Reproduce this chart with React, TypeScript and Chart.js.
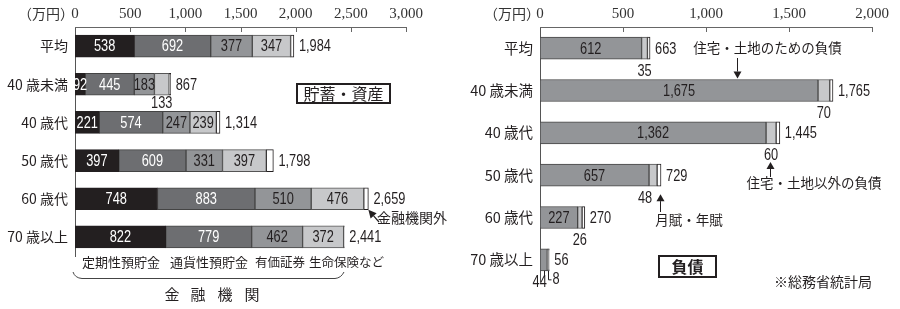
import React, { useEffect, useRef } from "react";
import { Chart, registerables } from "chart.js";
Chart.register(...registerables);

// ---------- data ----------
const categories = ["平均", "40 歳未満", "40 歳代", "50 歳代", "60 歳代", "70 歳以上"];

// 貯蓄・資産 (万円)
const timeDeposits = [538, 92, 221, 397, 748, 822];
const demandDeposits = [692, 445, 574, 609, 883, 779];
const securities = [377, 183, 247, 331, 510, 462];
const lifeInsurance = [347, 133, 239, 397, 476, 372];
const nonFinancial = [30, 14, 33, 64, 42, 6];
const savingsTotals = [1984, 867, 1314, 1798, 2659, 2441];
const savingsTicks = [0, 500, 1000, 1500, 2000, 2500, 3000];
const savingsSeriesNames = ["定期性預貯金", "通貨性預貯金", "有価証券", "生命保険など", "金融機関外"];

// 負債 (万円)
const housingDebt = [612, 1675, 1362, 657, 227, 44];
const otherDebt = [35, 70, 60, 48, 26, 8];
const installmentDebt = [16, 20, 23, 24, 17, 4];
const debtTotals = [663, 1765, 1445, 729, 270, 56];
const debtTicks = [0, 500, 1000, 1500, 2000];
const debtSeriesNames = ["住宅・土地のための負債", "住宅・土地以外の負債", "月賦・年賦"];

// ---------- styles ----------
const JP = "'Noto Sans CJK JP', 'Noto Sans', sans-serif";
const NUM = "'Liberation Sans', Arimo, sans-serif";
const NARROW = 0.8;
const SERIF = "'Liberation Serif', 'DejaVu Serif', serif";
const INK = "#231f20";
const fmt = (v: number) => v.toLocaleString("en-US");

function numWidth(ctx: CanvasRenderingContext2D, txt: string) {
  return ctx.measureText(txt).width * NARROW;
}

// condensed number text (horizontal compression)
function numText(ctx: CanvasRenderingContext2D, txt: string, x: number, y: number, align: "left" | "center" | "right") {
  ctx.save();
  ctx.translate(x, y);
  ctx.scale(NARROW, 1);
  ctx.textAlign = align;
  ctx.textBaseline = "middle";
  ctx.fillText(txt, 0, 0);
  ctx.restore();
}

function arrow(ctx: CanvasRenderingContext2D, x1: number, y1: number, x2: number, y2: number, head = 7, half = 4) {
  const ang = Math.atan2(y2 - y1, x2 - x1);
  const bx = x2 - head * Math.cos(ang);
  const by = y2 - head * Math.sin(ang);
  ctx.beginPath();
  ctx.moveTo(x1, y1);
  ctx.lineTo(bx, by);
  ctx.stroke();
  ctx.beginPath();
  ctx.moveTo(x2, y2);
  ctx.lineTo(bx + half * Math.sin(ang), by - half * Math.cos(ang));
  ctx.lineTo(bx - half * Math.sin(ang), by + half * Math.cos(ang));
  ctx.closePath();
  ctx.fill();
}

function drawTopAxis(chart: any, ticks: number[], unitDx: number) {
  const { ctx, chartArea: a } = chart;
  const x = chart.scales.x;
  ctx.save();
  ctx.strokeStyle = "#666";
  ctx.lineWidth = 1;
  ctx.beginPath();
  ctx.moveTo(a.left, a.top + 0.5);
  ctx.lineTo(a.right, a.top + 0.5);
  for (const v of ticks) {
    if (v === 0) continue;
    const px = Math.round(x.getPixelForValue(v)) + 0.5;
    ctx.moveTo(px, a.top);
    ctx.lineTo(px, a.top + 5);
  }
  ctx.stroke();
  ctx.fillStyle = "#333";
  ctx.font = `15px ${SERIF}`;
  ctx.textAlign = "center";
  ctx.textBaseline = "middle";
  for (const v of ticks) {
    ctx.fillText(fmt(v), x.getPixelForValue(v), 14);
  }
  ctx.font = `14px ${JP}`;
  ctx.textAlign = "right";
  ctx.fillText("（万円）", a.left - unitDx, 14);
  ctx.restore();
}

function segProps(el: any) {
  return el.getProps(["x", "base", "y", "height"], true);
}

const leftPlugin = {
  id: "leftDecor",
  afterDraw(chart: any) {
    const { ctx } = chart;
    drawTopAxis(chart, savingsTicks, 1);
    const series = [timeDeposits, demandDeposits, securities, lifeInsurance];
    const colors = ["#ffffff", "#ffffff", INK, INK];
    ctx.save();
    ctx.font = `16px ${NUM}`;
    for (let d = 0; d < series.length; d++) {
      const meta = chart.getDatasetMeta(d);
      meta.data.forEach((el: any, i: number) => {
        const p = segProps(el);
        const txt = fmt(series[d][i]);
        const w = numWidth(ctx, txt);
        const segW = Math.abs(p.x - p.base);
        const cx = (p.x + p.base) / 2;
        if (d === 3 && segW < w) {
          ctx.fillStyle = INK;
          numText(ctx, txt, cx, p.y + p.height / 2 + 8, "center");
        } else {
          ctx.fillStyle = colors[d];
          numText(ctx, txt, cx, p.y + 1, "center");
        }
      });
    }
    // totals
    const last = chart.getDatasetMeta(4);
    ctx.fillStyle = INK;
    last.data.forEach((el: any, i: number) => {
      const p = segProps(el);
      numText(ctx, fmt(savingsTotals[i]), p.x + 5, p.y + 1, "left");
    });

    // annotations
    ctx.fillStyle = INK;
    ctx.strokeStyle = INK;
    ctx.textBaseline = "middle";
    ctx.lineWidth = 2;
    ctx.strokeRect(297, 84, 93, 19);
    ctx.font = `16px ${JP}`;
    ctx.textAlign = "center";
    ctx.fillText("貯蓄・資産", 343.5, 93.5);
    // 金融機関外 arrow
    const p60 = segProps(last.data[4]);
    ctx.lineWidth = 1.2;
    arrow(ctx, 379, 222, p60.x, p60.y + p60.height / 2, 8, 4);
    ctx.font = `14px ${JP}`;
    ctx.textAlign = "left";
    ctx.fillText(savingsSeriesNames[4], 377, 218);
    // category names below
    ctx.textAlign = "left";
    const nameX = [82, 170, 255, 309];
    const nameSize = [13, 13, 12.5, 12.5];
    for (let k = 0; k < 4; k++) {
      ctx.font = `${nameSize[k]}px ${JP}`;
      ctx.fillText(savingsSeriesNames[k], nameX[k], 262);
    }
    // brace
    ctx.lineWidth = 1;
    ctx.strokeStyle = "#444";
    ctx.beginPath();
    ctx.moveTo(73, 272);
    ctx.quadraticCurveTo(75, 278, 82, 278.5);
    ctx.lineTo(335, 278.5);
    ctx.quadraticCurveTo(341, 278, 344, 272);
    ctx.stroke();
    ctx.font = `15px ${JP}`;
    ctx.textAlign = "center";
    const fin = ["金", "融", "機", "関"];
    const finX = [172, 198, 225, 252];
    fin.forEach((c, k) => ctx.fillText(c, finX[k], 294));
    ctx.restore();
  },
};

const rightPlugin = {
  id: "rightDecor",
  afterDraw(chart: any) {
    const { ctx } = chart;
    drawTopAxis(chart, debtTicks, 0);
    ctx.save();
    ctx.font = `16px ${NUM}`;
    ctx.fillStyle = INK;
    ctx.strokeStyle = INK;
    ctx.lineWidth = 1;
    const m0 = chart.getDatasetMeta(0);
    const m1 = chart.getDatasetMeta(1);
    const m2 = chart.getDatasetMeta(2);
    const belowFirst: boolean[] = [];
    m0.data.forEach((el: any, i: number) => {
      const p = segProps(el);
      const txt = fmt(housingDebt[i]);
      const w = numWidth(ctx, txt);
      const segW = Math.abs(p.x - p.base);
      const cx = (p.x + p.base) / 2;
      const bottom = p.y + p.height / 2;
      if (segW < w) {
        belowFirst[i] = true;
        ctx.beginPath();
        ctx.moveTo(Math.round(cx) + 0.5, bottom);
        ctx.lineTo(Math.round(cx) + 0.5, bottom + 5);
        ctx.stroke();
        numText(ctx, txt, cx - 4, bottom + 12, "center");
      } else {
        belowFirst[i] = false;
        numText(ctx, txt, cx, p.y + 1, "center");
      }
    });
    m1.data.forEach((el: any, i: number) => {
      const p = segProps(el);
      const txt = fmt(otherDebt[i]);
      const cx = (p.x + p.base) / 2;
      const bottom = p.y + p.height / 2;
      if (belowFirst[i]) {
        const lx = Math.round(cx) + 0.5;
        ctx.beginPath();
        ctx.moveTo(lx, bottom);
        ctx.lineTo(lx, bottom + 9);
        ctx.lineTo(lx + 3, bottom + 9);
        ctx.stroke();
        numText(ctx, txt, lx + 4, bottom + 9, "left");
      } else {
        const crowded = i === 3 ? -8 : 0;
        numText(ctx, txt, cx + crowded, bottom + 12, "center");
      }
    });
    m2.data.forEach((el: any, i: number) => {
      const p = segProps(el);
      numText(ctx, fmt(debtTotals[i]), p.x + 5, p.y + 1, "left");
    });

    // annotations
    ctx.textBaseline = "middle";
    ctx.font = `13.5px ${JP}`;
    ctx.textAlign = "center";
    ctx.fillText(debtSeriesNames[0], 317.5, 48);
    const p40u = segProps(m0.data[1]);
    arrow(ctx, 287.5, 58, 287.5, p40u.y - p40u.height / 2 - 1, 7, 4);

    const p40 = segProps(m1.data[2]);
    const ax = Math.round((p40.x + p40.base) / 2) - 0.5;
    arrow(ctx, ax, 177, ax, 162, 7, 4);
    ctx.fillText(debtSeriesNames[1], 364, 183);

    const p50 = segProps(m2.data[3]);
    const bx = Math.round(p50.x) - 0.5;
    arrow(ctx, bx, 212, bx, p50.y + p50.height / 2 + 8, 7, 4);
    ctx.fillText(debtSeriesNames[2], 239, 220);

    ctx.lineWidth = 2;
    ctx.strokeRect(209, 256, 57, 21);
    ctx.font = `bold 16px ${JP}`;
    ctx.fillText("負債", 237.5, 266.5);

    ctx.font = `14px ${JP}`;
    ctx.textAlign = "right";
    ctx.fillText("※総務省統計局", 422, 282);
    ctx.restore();
  },
};

function baseOptions(max: number, padRight: number, padBottom: number, yWidth: number, yFont: number) {
  return {
    indexAxis: "y" as const,
    responsive: false,
    animation: false as const,
    layout: { padding: { left: 0, top: 0, right: padRight, bottom: padBottom } },
    plugins: { legend: { display: false }, tooltip: { enabled: false } },
    scales: {
      x: {
        type: "linear" as const,
        position: "top" as const,
        stacked: true,
        min: 0,
        max,
        ticks: { display: false },
        grid: { display: false, drawTicks: false },
        border: { display: false },
        afterFit: (s: any) => {
          s.height = 27;
        },
      },
      y: {
        type: "category" as const,
        stacked: true,
        grid: { display: false, drawTicks: false },
        border: { display: true, color: "#555", width: 1 },
        ticks: { color: INK, padding: 7, font: { family: JP, size: yFont } },
        afterFit: (s: any) => {
          s.width = yWidth;
        },
      },
    },
  };
}

function ds(label: string, data: number[], bg: string, border: string) {
  return {
    label,
    data,
    backgroundColor: bg,
    borderColor: border,
    borderWidth: 1,
    borderSkipped: false,
    barThickness: 22,
  };
}

export default function App() {
  const leftRef = useRef<HTMLCanvasElement>(null);
  const rightRef = useRef<HTMLCanvasElement>(null);

  useEffect(() => {
    const left = new Chart(leftRef.current!, {
      type: "bar",
      data: {
        labels: categories,
        datasets: [
          ds(savingsSeriesNames[0], timeDeposits, "#231f20", "#231f20"),
          ds(savingsSeriesNames[1], demandDeposits, "#6d6e71", "#444"),
          ds(savingsSeriesNames[2], securities, "#939598", "#444"),
          ds(savingsSeriesNames[3], lifeInsurance, "#c7c8ca", "#555"),
          ds(savingsSeriesNames[4], nonFinancial, "#ffffff", "#231f20"),
        ],
      },
      options: baseOptions(3000, 44, 53, 75, 14) as any,
      plugins: [leftPlugin],
    });
    const right = new Chart(rightRef.current!, {
      type: "bar",
      data: {
        labels: categories,
        datasets: [
          ds(debtSeriesNames[0], housingDebt, "#939598", "#444"),
          ds(debtSeriesNames[1], otherDebt, "#c7c8ca", "#555"),
          ds(debtSeriesNames[2], installmentDebt, "#ffffff", "#231f20"),
        ],
      },
      options: baseOptions(2000, 28, 28, 90, 14.5) as any,
      plugins: [rightPlugin],
    });
    return () => {
      left.destroy();
      right.destroy();
    };
  }, []);

  return (
    <div style={{ position: "absolute", left: 0, top: 0, width: 900, height: 309, background: "#fff" }}>
      <canvas ref={leftRef} width={450} height={309} style={{ position: "absolute", left: 0, top: 0, width: 450, height: 309 }} />
      <canvas ref={rightRef} width={450} height={309} style={{ position: "absolute", left: 450, top: 0, width: 450, height: 309 }} />
    </div>
  );
}
